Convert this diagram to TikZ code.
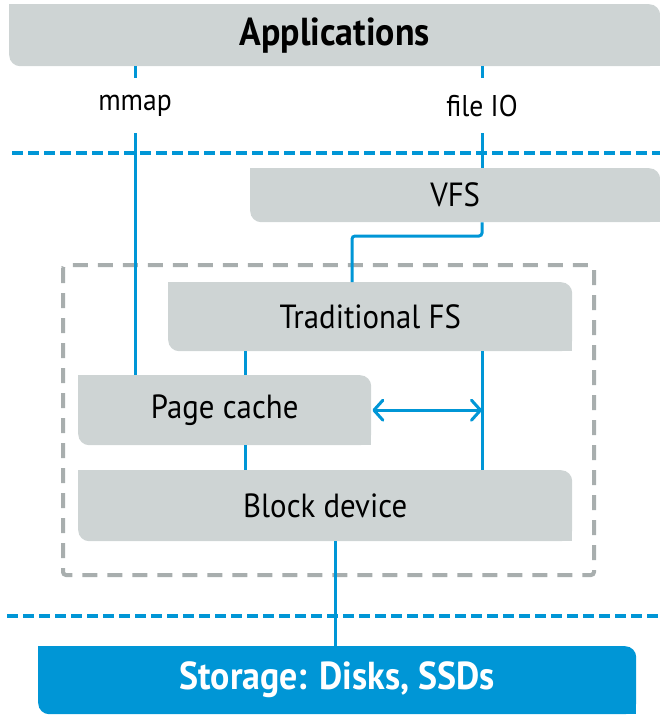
\documentclass[tikz,border=0pt]{standalone}
\usepackage{fontspec}
\setmainfont{PT Sans}[FakeStretch=0.92]
\usetikzlibrary{arrows.meta}
\definecolor{boxgray}{RGB}{206,212,212}
\definecolor{hpblue}{RGB}{0,150,214}
\definecolor{framegray}{RGB}{168,174,174}
\begin{document}
\begin{tikzpicture}[x=1pt,y=-1pt,
  layer/.style={fill=boxgray, rounded corners=11pt, inner sep=0pt, anchor=north west,
    font=\fontsize{33.5}{40}\selectfont},
  banner/.style={layer, font=\fontsize{39}{46}\selectfont\bfseries},
  lbl/.style={inner sep=0pt, minimum height=55pt, font=\fontsize{30}{36}\selectfont},
  link/.style={draw=hpblue, line width=3pt},
  sep/.style={draw=hpblue, line width=4pt, dash pattern=on 11pt off 5pt},
  frame/.style={draw=framegray, line width=4pt, dash pattern=on 15pt off 10pt, rounded corners=3pt},
  both/.style={link, {Straight Barb[length=9pt,width=20pt,round]}-{Straight Barb[length=9pt,width=20pt,round]}}
]
\useasboundingbox (0,0) rectangle (660,715);

% layer separators and the kernel frame
\draw[sep] (12,153) -- (660,153);
\draw[sep] (7,616) -- (660,616);
\draw[frame] (63,265) rectangle (594,575);

% layers
\node[banner, minimum width=651pt, minimum height=62pt] (apps) at (9,4) {Applications};
\node[layer, minimum width=410pt, minimum height=54pt] (vfs) at (250,168) {VFS};
\node[layer, minimum width=404pt, minimum height=69pt] (tfs) at (168,282) {Traditional FS};
\node[layer, minimum width=293pt, minimum height=70pt] (page) at (78,375) {Page cache};
\node[layer, minimum width=494pt, minimum height=71pt] (block) at (78,470) {Block device};
\node[banner, fill=hpblue, text=white, minimum width=598pt, minimum height=68pt] (storage) at (38,646) {Storage: Disks, SSDs};

% square off the top-left and bottom-right corners
\foreach \n/\c in {apps/boxgray, vfs/boxgray, tfs/boxgray, page/boxgray, block/boxgray, storage/hpblue} {
  \fill[\c] (\n.north west) rectangle ++(12,12);
  \fill[\c] (\n.south east) rectangle ++(-12,-12);
}

% access path labels
\node[lbl] (mmap) at (135,105.5) {mmap};
\node[lbl] (fio) at (482,105.5) {file IO};

\coordinate (xa) at (245,0);
\coordinate (xs) at (335,0);
\coordinate (bend) at (352,236);

% connectors
\draw[link] (apps.south -| mmap) -- (mmap.north);
\draw[link] (mmap.south) -- (page.north -| mmap);
\draw[link] (apps.south -| fio) -- (fio.north);
\draw[link] (fio.south) -- (vfs.north -| fio);
\draw[link, rounded corners=3pt] (vfs.south -| fio) |- (bend) -- (tfs.north -| bend);
\draw[link] (tfs.south -| xa) -- (page.north -| xa);
\draw[link] (page.south -| xa) -- (block.north -| xa);
\draw[link] (tfs.south -| fio) -- (block.north -| fio);
\draw[both] ([xshift=1pt]page.east) -- (page.east -| fio);
\draw[link] (block.south -| xs) -- (storage.north -| xs);
\end{tikzpicture}
\end{document}
